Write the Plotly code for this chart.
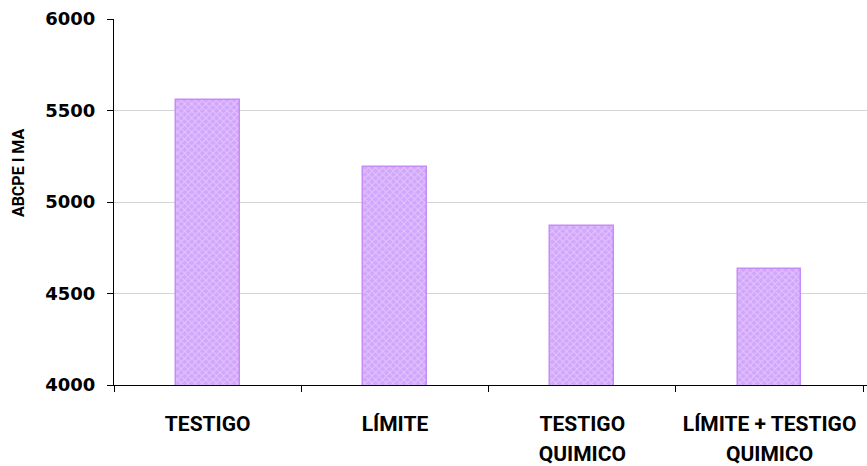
import plotly.graph_objects as go

categories = ["TESTIGO", "LÍMITE", "TESTIGO\nQUIMICO", "LÍMITE + TESTIGO\nQUIMICO"]
abcpe_values = [5560, 5190, 4870, 4635]
y_ticks = [4000, 4500, 5000, 5500, 6000]
y_title = "ABCPE I MA"

NUM_FONT = "DejaVu Sans"
TEXT_FONT = "Roboto"
LABEL_PX = 21


def tick_label(name):
    # each line sized separately so the (larger) axis font sets the line spacing
    return "<br>".join(
        f'<span style="font-size:{LABEL_PX}px">{line}</span>' for line in name.split("\n")
    )


fig = go.Figure(
    go.Bar(
        x=categories,
        y=abcpe_values,
        width=0.34,
        marker=dict(
            color="#d2a6fb",
            line=dict(color="#c58cf7", width=1.5),
            pattern=dict(shape="x", fgcolor="#f3e6ff", size=5, solidity=0.35,
                         fillmode="overlay"),
        ),
        hoverinfo="y",
    )
)

fig.update_layout(
    width=867,
    height=466,
    margin=dict(l=114, r=0, t=19, b=81, autoexpand=False),
    plot_bgcolor="white",
    paper_bgcolor="white",
    showlegend=False,
    font=dict(family=NUM_FONT, color="black"),
    bargap=0,
    annotations=[
        dict(
            text=y_title,
            xref="paper", yref="paper",
            x=-0.127, y=0.58,
            xanchor="center", yanchor="middle",
            textangle=-90,
            showarrow=False,
            font=dict(family=TEXT_FONT, size=16, color="black", weight="bold"),
        )
    ],
)

fig.update_xaxes(
    type="category",
    range=[-0.5, 3.52],
    tickvals=categories,
    ticktext=[tick_label(c) for c in categories],
    tickangle=0,
    automargin=False,
    showline=True,
    linecolor="black",
    linewidth=1.2,
    ticks="outside",
    tickson="boundaries",
    ticklen=6,
    tickcolor="black",
    showgrid=False,
    tickfont=dict(family=TEXT_FONT, size=23, color="black", weight="bold"),
    ticklabelstandoff=17,
)

fig.update_yaxes(
    range=[4000, 6000],
    tickvals=y_ticks,
    automargin=False,
    showline=True,
    linecolor="black",
    linewidth=1.2,
    ticks="outside",
    ticklen=6,
    tickcolor="black",
    showgrid=True,
    gridcolor="#d4d4d4",
    gridwidth=1,
    zeroline=False,
    ticklabelstandoff=8,
    tickfont=dict(family=NUM_FONT, size=18, color="black", weight="bold"),
)

fig.write_html("out.html")
